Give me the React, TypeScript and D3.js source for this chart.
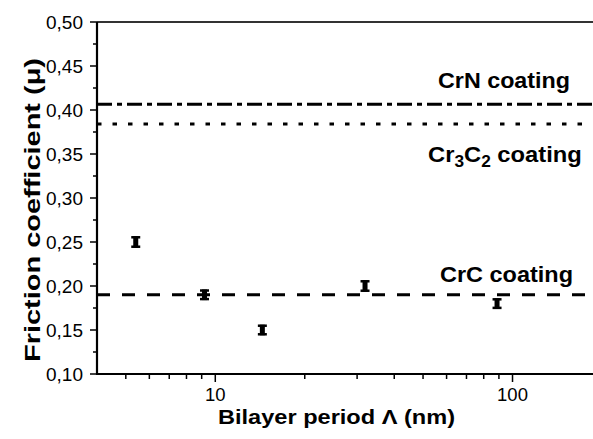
import React from 'react'
import * as d3 from "d3";

// bilayer period (nm) and friction coefficient
const periods = [5.4, 9.2, 14.4, 31.9, 88.7];
const friction = [0.25, 0.19, 0.15, 0.20, 0.18];
const errors = [0.0065, 0.006, 0.006, 0.0065, 0.006];

// reference coatings
const coatings = ["CrN", "Cr3C2", "CrC"];
const coatingValues = [0.4065, 0.384, 0.19];

const yTicks = [0.10, 0.15, 0.20, 0.25, 0.30, 0.35, 0.40, 0.45, 0.50];
const yMinor = [0.125, 0.175, 0.225, 0.275, 0.325, 0.375, 0.425, 0.475];
const xTicks = [10, 100];
const xMinor = [5, 6, 7, 8, 9, 20, 30, 40, 50, 60, 70, 80, 90, 200];

const width = 593;
const height = 439;
const left = 97;
const right = 602;
const top = 22;
const bottom = 374;
const font = "'Liberation Sans', Arial, Helvetica, sans-serif";

export default function App() {
    const x = d3.scaleLog([4, 200], [left, right]);
    const y = d3.scaleLinear([0.1, 0.5], [bottom, top]);
    const fmt = (v: number) => d3.format(".2f")(v).replace(".", ",");

    const dash: Record<string, string> = {
        CrN: "15 5 5 5",
        Cr3C2: "4.5 11",
        CrC: "13 12",
    };

    return (
        <svg width={width} height={height} style={{ position: "absolute", left: 0, top: 0, background: "white" }} fontFamily={font}>
            <rect x={0} y={0} width={width} height={height} fill="white" />

            {/* reference lines */}
            {coatings.map((c, i) => (
                <line key={c} x1={left} x2={right} y1={y(coatingValues[i])} y2={y(coatingValues[i])}
                    stroke="#000" strokeWidth={3} strokeDasharray={dash[c]} />
            ))}

            {/* frame */}
            <line x1={left} x2={right} y1={top} y2={top} stroke="#333" strokeWidth={2} />
            <line x1={left} x2={left} y1={top} y2={bottom + 1} stroke="#000" strokeWidth={2.2} />
            <line x1={left - 1} x2={right} y1={bottom} y2={bottom} stroke="#000" strokeWidth={2} />

            {/* y axis */}
            {yTicks.map(t => (
                <g key={t}>
                    <line x1={left - 7} x2={left} y1={y(t)} y2={y(t)} stroke="#000" strokeWidth={1.5} />
                    <text x={83} y={y(t)} dy="0.36em" textAnchor="end" fontSize={18.5}
                        textLength={37} lengthAdjust="spacingAndGlyphs">{fmt(t)}</text>
                </g>
            ))}
            {yMinor.map(t => (
                <line key={t} x1={left - 4} x2={left} y1={y(t)} y2={y(t)} stroke="#000" strokeWidth={1.5} />
            ))}

            {/* x axis */}
            {xTicks.map(t => (
                <g key={t}>
                    <line x1={x(t)} x2={x(t)} y1={bottom} y2={bottom + 8} stroke="#000" strokeWidth={1.5} />
                    <text x={x(t)} y={401} textAnchor="middle" fontSize={18.5}>{t}</text>
                </g>
            ))}
            {xMinor.map(t => (
                <line key={t} x1={x(t)} x2={x(t)} y1={bottom} y2={bottom + 5} stroke="#000" strokeWidth={1.5} />
            ))}

            {/* data with error bars */}
            {periods.map((p, i) => {
                const cx = x(p);
                const y1 = y(friction[i] + errors[i]);
                const y2 = y(friction[i] - errors[i]);
                return (
                    <g key={i}>
                        <rect x={cx - 2.5} y={y1} width={5} height={y2 - y1} fill="#000" />
                        <line x1={cx - 4.5} x2={cx + 4.5} y1={y1 + 1} y2={y1 + 1} stroke="#000" strokeWidth={2.5} />
                        <line x1={cx - 4.5} x2={cx + 4.5} y1={y2 - 1} y2={y2 - 1} stroke="#000" strokeWidth={2.5} />
                    </g>
                );
            })}

            {/* annotations */}
            <text x={438} y={88} fontSize={22} fontWeight="bold"
                textLength={132} lengthAdjust="spacingAndGlyphs">CrN coating</text>
            <text transform="translate(428,162) scale(1.08,1)" fontSize={22} fontWeight="bold">
                Cr<tspan fontSize={16} dy={5}>3</tspan><tspan dy={-5}>C</tspan><tspan fontSize={16} dy={5}>2</tspan><tspan dy={-5}> coating</tspan>
            </text>
            <text x={440} y={282} fontSize={22} fontWeight="bold"
                textLength={133} lengthAdjust="spacingAndGlyphs">CrC coating</text>

            {/* axis titles */}
            <text x={218} y={424} fontSize={20.5} fontWeight="bold"
                textLength={237} lengthAdjust="spacingAndGlyphs">Bilayer period Λ (nm)</text>
            <text transform="translate(40,362) rotate(-90)" fontSize={22} fontWeight="bold"
                textLength={304} lengthAdjust="spacingAndGlyphs">Friction coefficient (μ)</text>
        </svg>
    );
}
